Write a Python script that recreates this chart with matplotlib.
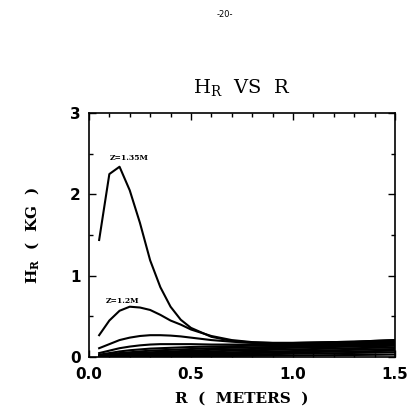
import matplotlib
matplotlib.use("Agg")
import matplotlib.pyplot as plt
from matplotlib.ticker import MultipleLocator

# radius grid (meters)
r = [0.05, 0.1, 0.15, 0.2, 0.25, 0.3, 0.35, 0.4, 0.45, 0.5,
     0.6, 0.7, 0.8, 0.9, 1.0, 1.1, 1.2, 1.3, 1.4, 1.5]

# H_R (kG) for the different Z planes, top to bottom
h_135 = [1.44, 2.25, 2.34, 2.05, 1.65, 1.19, 0.86, 0.62, 0.46, 0.36,
         0.25, 0.20, 0.18, 0.175, 0.175, 0.18, 0.185, 0.19, 0.20, 0.21]
h_120 = [0.27, 0.45, 0.57, 0.62, 0.61, 0.58, 0.52, 0.45, 0.40, 0.34,
         0.26, 0.21, 0.185, 0.175, 0.175, 0.18, 0.185, 0.19, 0.20, 0.21]
h_3 = [0.11, 0.16, 0.21, 0.24, 0.26, 0.27, 0.27, 0.265, 0.255, 0.24,
       0.21, 0.19, 0.175, 0.17, 0.17, 0.17, 0.175, 0.18, 0.185, 0.19]
h_4 = [0.05, 0.08, 0.11, 0.13, 0.145, 0.155, 0.16, 0.16, 0.16, 0.16,
       0.155, 0.155, 0.155, 0.155, 0.155, 0.16, 0.165, 0.17, 0.175, 0.18]
h_5 = [0.03, 0.05, 0.07, 0.085, 0.095, 0.105, 0.11, 0.115, 0.12, 0.125,
       0.13, 0.135, 0.14, 0.14, 0.145, 0.15, 0.155, 0.16, 0.165, 0.17]
h_6 = [0.02, 0.035, 0.05, 0.06, 0.07, 0.08, 0.085, 0.09, 0.095, 0.10,
       0.11, 0.115, 0.12, 0.125, 0.13, 0.135, 0.14, 0.145, 0.15, 0.155]
h_7 = [0.015, 0.025, 0.035, 0.045, 0.055, 0.06, 0.065, 0.07, 0.075, 0.08,
       0.09, 0.095, 0.10, 0.11, 0.115, 0.12, 0.125, 0.13, 0.135, 0.14]
h_8 = [0.01, 0.02, 0.025, 0.035, 0.04, 0.045, 0.05, 0.055, 0.06, 0.065,
       0.07, 0.08, 0.085, 0.09, 0.095, 0.10, 0.105, 0.11, 0.115, 0.12]
h_9 = [0.008, 0.012, 0.018, 0.022, 0.028, 0.032, 0.036, 0.04, 0.045, 0.05,
       0.055, 0.06, 0.065, 0.07, 0.075, 0.08, 0.085, 0.09, 0.095, 0.10]
h_10 = [0.005, 0.008, 0.012, 0.015, 0.018, 0.022, 0.025, 0.028, 0.032, 0.035,
        0.04, 0.045, 0.05, 0.055, 0.06, 0.063, 0.067, 0.07, 0.075, 0.08]
h_11 = [0.003, 0.005, 0.007, 0.009, 0.011, 0.013, 0.015, 0.018, 0.02, 0.022,
        0.026, 0.03, 0.034, 0.038, 0.042, 0.045, 0.048, 0.052, 0.055, 0.06]
h_12 = [0.002, 0.003, 0.004, 0.005, 0.006, 0.007, 0.008, 0.009, 0.01, 0.011,
        0.013, 0.015, 0.017, 0.019, 0.021, 0.023, 0.025, 0.027, 0.029, 0.032]

curves = [h_135, h_120, h_3, h_4, h_5, h_6, h_7, h_8, h_9, h_10, h_11, h_12]

x_ticks = [0.0, 0.5, 1.0, 1.5]
x_labels = ["0.0", "0.5", "1.0", "1.5"]
y_ticks = [0, 1, 2, 3]
y_labels = ["0", "1", "2", "3"]

fig = plt.figure(figsize=(4.08, 4.11), dpi=100)
ax = fig.add_axes([0.218, 0.131, 0.75, 0.594])

for h in curves:
    ax.plot(r, h, color="black", lw=1.5)

ax.set_xlim(0, 1.5)
ax.set_ylim(0, 3)
ax.set_xticks(x_ticks, x_labels, fontweight="bold", fontsize=11)
ax.set_yticks(y_ticks, y_labels, fontweight="bold", fontsize=11)
ax.xaxis.set_minor_locator(MultipleLocator(0.1))
ax.yaxis.set_minor_locator(MultipleLocator(0.5))
ax.tick_params(which="both", direction="in", top=True, right=True, width=1)
ax.tick_params(which="major", length=5)
ax.tick_params(axis="x", which="major", pad=7)
ax.tick_params(axis="y", which="major", pad=6)
ax.tick_params(which="minor", length=3)
for s in ax.spines.values():
    s.set_linewidth(1.2)

ax.text(0.1, 2.42, "Z=1.35M", fontsize=5.5, fontweight="bold", family="DejaVu Serif")
ax.text(0.08, 0.66, "Z=1.2M", fontsize=5.5, fontweight="bold", family="DejaVu Serif")

ax.set_title(r"H$_\mathregular{R}$  VS  R", fontsize=14, family="DejaVu Serif", pad=14)
ax.set_xlabel("R  (  METERS  )", fontsize=11, fontweight="bold", family="DejaVu Serif", labelpad=7)
ax.set_ylabel(r"H$_\mathregular{R}$  (  KG  )", fontsize=11, fontweight="bold", family="DejaVu Serif", labelpad=20)

fig.text(0.55, 0.965, "-20-", fontsize=6, ha="center", va="center")

fig.savefig("out.png", dpi=100)
